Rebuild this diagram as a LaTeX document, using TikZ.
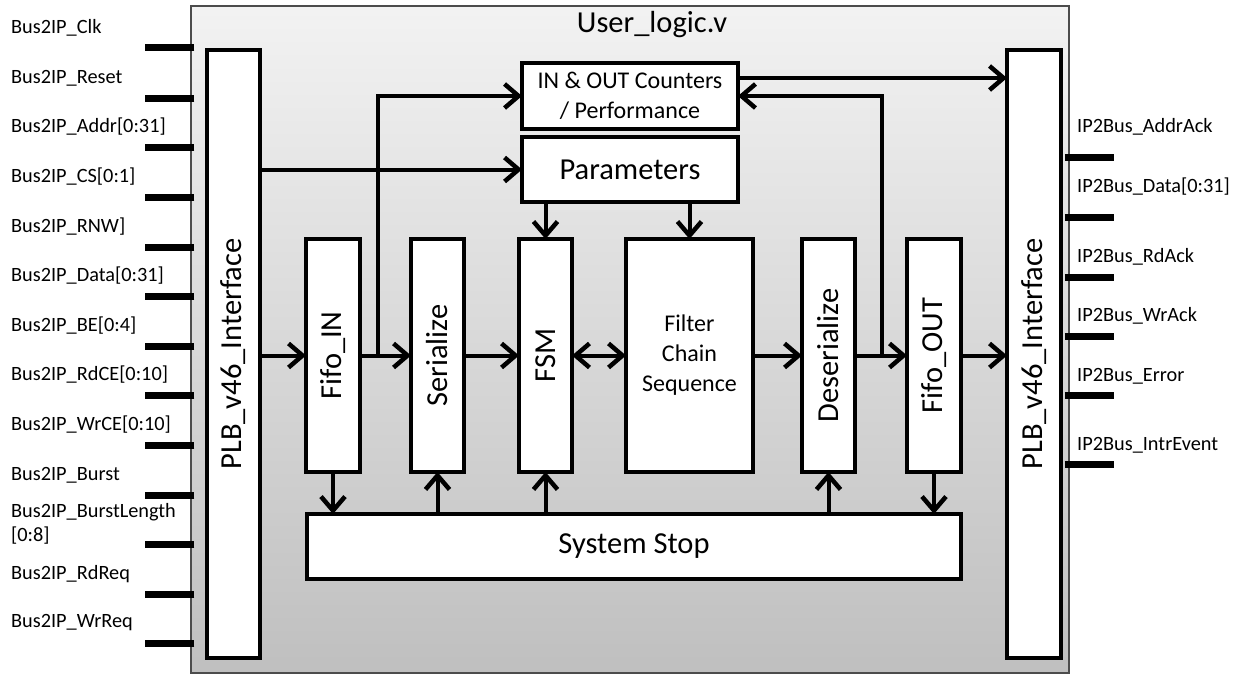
\documentclass[tikz,border=0pt]{standalone}
\usepackage{fontspec}
\setmainfont{Carlito}
\usepackage{graphicx}
\usetikzlibrary{arrows.meta}
\tikzset{
    myblock/.style={rectangle,draw=black,fill=white,line width=3.5pt,inner sep=0pt,outer sep=0pt,font=\fontsize{30.5}{34}\selectfont},
    myarrow/.style={-{Straight Barb[length=14pt,width=24pt,line width=4.5pt]}, line width=4pt},
    mydarrow/.style={{Straight Barb[length=14pt,width=24pt,line width=4.5pt]}-{Straight Barb[length=14pt,width=24pt,line width=4.5pt]}, line width=4pt},
    mypin/.style={line width=7pt},
    mylabel/.style={anchor=west,inner sep=0pt,align=left,font=\fontsize{20.3}{24}\selectfont}
}
\begin{document}
\begin{tikzpicture}[x=1pt,y=-1pt]
    \useasboundingbox (0,0) rectangle (1237,677);
    % module frame
    \draw (630,339.5) node[rectangle,draw=black!70,line width=1.5pt,top color=gray!10,bottom color=gray!50,minimum width=878,minimum height=667,inner sep=0pt] (userlogic) {};
    \draw (652,25) node[font=\fontsize{30.5}{34}\selectfont] (title) {User\_logic.v};
    % bus pins
    \foreach \y/\txt [count=\i] in {48/{Bus2IP\_Clk}, 98/{Bus2IP\_Reset}, 147/{Bus2IP\_Addr[0:31]}, 197/{Bus2IP\_CS[0:1]}, 247/{Bus2IP\_RNW]}, 296/{Bus2IP\_Data[0:31]}, 346/{Bus2IP\_BE[0:4]}, 395/{Bus2IP\_RdCE[0:10]}, 445/{Bus2IP\_WrCE[0:10]}, 495/{Bus2IP\_Burst}, 544/{Bus2IP\_BurstLength\\{}[0:8]}, 594/{Bus2IP\_RdReq}, 643/{Bus2IP\_WrReq}}{
        \draw[mypin] (userlogic.west |- 0,\y) ++(4,0) -- ++(-49,0);
        \node[mylabel] (in\i) at (11,\y-20) {\txt};
    }
    \foreach \y/\ly/\txt [count=\i] in {157/127/{IP2Bus\_AddrAck}, 217/187/{IP2Bus\_Data[0:31]}, 277/257/{IP2Bus\_RdAck}, 336/316/{IP2Bus\_WrAck}, 395/376/{IP2Bus\_Error}, 464/445/{IP2Bus\_IntrEvent}}{
        \draw[mypin] (userlogic.east |- 0,\y) ++(-5,0) -- ++(49,0);
        \node[mylabel] (out\i) at (1077,\ly) {\txt};
    }
    % blocks
    \draw (233.5,354) node[myblock,minimum width=53,minimum height=608] (plbin) {\rotatebox{90}{PLB\_v46\_Interface}};
    \draw (1034,354) node[myblock,minimum width=54,minimum height=608] (plbout) {\rotatebox{90}{PLB\_v46\_Interface}};
    \draw (630,96) node[myblock,minimum width=216,minimum height=66,align=center,font=\fontsize{24}{30}\selectfont] (counters) {IN \& OUT Counters\\/ Performance};
    \draw (630,169.5) node[myblock,minimum width=216,minimum height=65] (params) {Parameters};
    \draw (333,355.5) node[myblock,minimum width=54,minimum height=233] (fifoin) {\rotatebox{90}{Fifo\_IN}};
    \draw (437.5,355.5) node[myblock,minimum width=53,minimum height=233] (serialize) {\rotatebox{90}{Serialize}};
    \draw (545.5,355.5) node[myblock,minimum width=53,minimum height=233] (fsm) {\rotatebox{90}{FSM}};
    \draw (689.5,355.5) node[myblock,minimum width=127,minimum height=233,align=center,font=\fontsize{24}{30}\selectfont] (filter) {Filter\\Chain\\Sequence};
    \draw (828.5,355.5) node[myblock,minimum width=53,minimum height=233] (deser) {\rotatebox{90}{Deserialize}};
    \draw (934,355.5) node[myblock,minimum width=54,minimum height=233] (fifoout) {\rotatebox{90}{Fifo\_OUT}};
    \draw (634,546.5) node[myblock,minimum width=654,minimum height=65] (stop) {System Stop};
    % data path
    \draw[myarrow] (plbin.east |- fifoin) -- (fifoin);
    \draw[myarrow] (fifoin) -- (serialize);
    \draw[myarrow] (serialize) -- (fsm);
    \draw[mydarrow] (fsm) -- (filter);
    \draw[myarrow] (filter) -- (deser);
    \draw[myarrow] (deser) -- (fifoout);
    \draw[myarrow] (fifoout) -- (fifoout -| plbout.west);
    % counters and parameters
    \coordinate (tapin) at (378,355.5);
    \coordinate (tapout) at (882,355.5);
    \draw[myarrow] (tapin) |- (counters.west);
    \draw[myarrow] (tapout) |- (counters.east);
    \draw[myarrow] ([yshift=18pt]counters.east) -- ([yshift=18pt]counters.east -| plbout.west);
    \draw[myarrow] (plbin.east |- params) -- (params);
    \draw[myarrow] (params.south -| fsm) -- (fsm);
    \draw[myarrow] (params.south -| filter) -- (filter);
    % system stop
    \draw[myarrow] (fifoin) -- (fifoin |- stop.north);
    \draw[myarrow] (stop.north -| serialize) -- (serialize);
    \draw[myarrow] (stop.north -| fsm) -- (fsm);
    \draw[myarrow] (stop.north -| deser) -- (deser);
    \draw[myarrow] (fifoout) -- (fifoout |- stop.north);
\end{tikzpicture}
\end{document}
